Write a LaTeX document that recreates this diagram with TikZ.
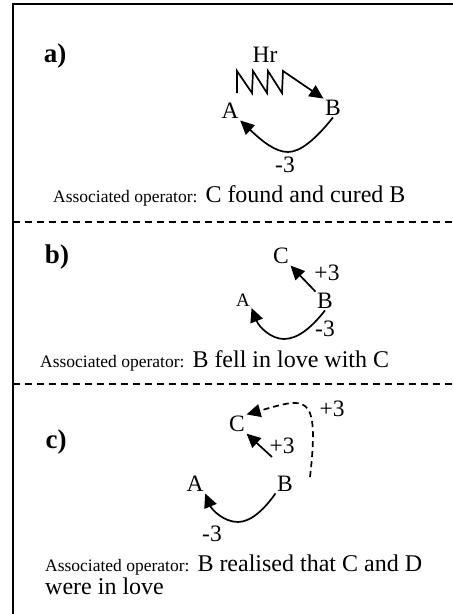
\documentclass[tikz,border=0pt]{standalone}
\usepackage{fontspec}
\setmainfont{Liberation Serif}
\usetikzlibrary{arrows.meta}

\newcommand\opfont{\fontsize{17.5}{22}\selectfont}
\tikzset{
    lbl/.style={inner sep=1.5pt, font=\fontsize{23.5}{26}\selectfont},
    small/.style={inner sep=1.5pt, font=\fontsize{19}{22}\selectfont},
    part/.style={inner sep=0pt, font=\fontsize{27}{30}\selectfont\bfseries},
    optext/.style={anchor=west, inner sep=0pt, align=left, font=\fontsize{24}{23}\selectfont},
    tri/.style={-{Triangle[length=14pt,width=13pt]}, line width=1.7pt},
    frame/.style={line width=1.8pt},
    sep/.style={line width=1.1pt, dash pattern=on 7pt off 5pt}
}

\begin{document}
\begin{tikzpicture}[x=1pt, y=1pt]
    \useasboundingbox (0,0) rectangle (453,-614);

    % Rahmen und Trennlinien
    \draw[frame] (13,-614) -- (13,-4) -- (453,-4);
    \draw[sep] (13,-222) -- (453,-222);
    \draw[sep] (13,-384) -- (453,-384);

    % a)
    \node[part] (aT) at (55,-56) {a)};
    \node[lbl] (aHr) at (265,-55) {Hr};
    \node[lbl] (aA) at (230,-111) {A};
    \node[lbl] (aB) at (333,-108) {B};
    \coordinate (aZ) at (237,-93);
    \draw[tri] (aZ) -- ++(0,22) -- ++(15,-22) -- ++(1,22) -- ++(14,-22)
        -- ++(1,22) -- ++(14,-22) -- ++(1,22) -- (aB.north west);
    \draw[tri] (aB.south) .. controls (315,-140) and (300,-152)
        .. (288,-152) .. controls (275,-152) and (262,-141) .. (aA.south east);
    \node[lbl] (aW) at (285,-165) {-3};
    \node[optext] (aOp) at (53,-196) {{\opfont Associated operator:} C found and cured B};

    % b)
    \node[part] (bT) at (57,-257) {b)};
    \node[lbl] (bC) at (281,-256) {C};
    \node[small] (bA) at (243,-300) {A};
    \node[lbl] (bB) at (325,-301) {B};
    \draw[tri] (bB.north west) -- (bC.south east);
    \node[lbl] (bP) at (327,-273) {+3};
    \draw[tri] (bB.south) .. controls (312,-327) and (298,-339)
        .. (284,-339) .. controls (271,-339) and (259,-327) .. (bA.south east);
    \node[lbl] (bW) at (325,-329) {-3};
    \node[optext] (bOp) at (40,-361) {{\opfont Associated operator:} B fell in love with C};

    % c)
    \node[part] (cT) at (56,-442) {c)};
    \node[lbl] (cC) at (237,-424) {C};
    \node[lbl] (cA) at (195,-484) {A};
    \node[lbl] (cB) at (285,-484) {B};
    \coordinate (cS) at (310,-477);
    \coordinate (cBt) at (272,-457);
    \draw[tri, dash pattern=on 6pt off 4pt] (cS) .. controls (320,-390) and (305,-398) .. (cC.north east);
    \node[lbl] (cP1) at (332,-409) {+3};
    \draw[tri] (cBt) -- (cC.south east);
    \node[lbl] (cP2) at (282,-446) {+3};
    \draw[tri] (cB.south west) .. controls (266,-507) and (252,-522)
        .. (238,-522) .. controls (224,-522) and (212,-510) .. (cA.south east);
    \node[lbl] (cW) at (212,-534) {-3};
    \node[optext] (cOp) at (45,-575) {{\opfont Associated operator:} B realised that C and D\\were in love};
\end{tikzpicture}
\end{document}
